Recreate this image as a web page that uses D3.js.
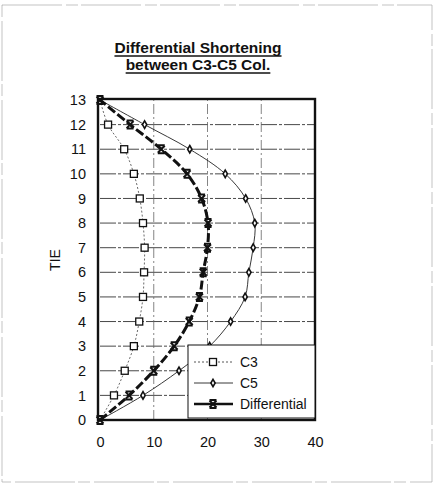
<!DOCTYPE html>
<html>
<head>
<meta charset="utf-8">
<script src="https://cdn.jsdelivr.net/npm/d3@7"></script>
<style>
  body { margin: 0; background: #fff; }
  svg text { font-family: "Liberation Sans", Arial, sans-serif; fill: #111; }
</style>
</head>
<body>
<svg></svg>
<script>
let tie = [0, 1, 2, 3, 4, 5, 6, 7, 8, 9, 10, 11, 12, 13]
let c3 = [0, 2.6, 4.6, 6.3, 7.3, 8.0, 8.2, 8.3, 8.0, 7.4, 6.3, 4.5, 1.5, 0]
let c5 = [0, 8.0, 14.7, 20.4, 24.3, 27.0, 27.7, 28.5, 28.8, 27.1, 23.3, 16.7, 8.3, 0]
let diff = [0, 5.4, 10.0, 13.8, 16.6, 18.5, 19.2, 20.0, 20.1, 18.9, 16.2, 11.4, 5.6, 0]
let xTicks = [0, 10, 20, 30, 40]
let titleLines = ["Differential Shortening", "between C3-C5 Col."]
let seriesNames = ["C3", "C5", "Differential"]

let width = 435
let height = 484

let svg = d3.select("svg")
  .attr("width", width)
  .attr("height", height)

// faint page frame of the scan
svg.append("rect")
   .attr("x", 2).attr("y", 5)
   .attr("width", 430).attr("height", 477)
   .attr("fill", "none")
   .attr("stroke", "#aaa")
   .attr("stroke-width", 0.7)
   .attr("stroke-dasharray", "60,4,12,3")

let xScale = d3.scaleLinear().domain([0, 40]).range([100, 315])
let yScale = d3.scaleLinear().domain([0, 13]).range([420, 100])

// title
let title = svg.append("g")
titleLines.forEach((t, i) => {
  let txt = title.append("text")
     .attr("x", 198)
     .attr("y", 53 + i * 17)
     .attr("text-anchor", "middle")
     .attr("font-size", "15.5px")
     .attr("font-weight", "bold")
     .text(t)
  let w = txt.node().getComputedTextLength()
  title.append("line")
     .attr("x1", 198 - w / 2).attr("x2", 198 + w / 2)
     .attr("y1", 56 + i * 17).attr("y2", 56 + i * 17)
     .attr("stroke", "#111").attr("stroke-width", 1.4)
})

// grid
svg.append("g")
   .selectAll("line")
   .data(tie.filter(d => d > 0 && d < 13))
   .enter().append("line")
   .attr("x1", xScale(0)).attr("x2", xScale(40))
   .attr("y1", d => yScale(d)).attr("y2", d => yScale(d))
   .attr("stroke", "#333").attr("stroke-width", 0.9)
   .attr("stroke-dasharray", "16,2,3,2")

svg.append("g")
   .selectAll("line")
   .data(xTicks.filter(d => d > 0 && d < 40))
   .enter().append("line")
   .attr("x1", d => xScale(d)).attr("x2", d => xScale(d))
   .attr("y1", yScale(0)).attr("y2", yScale(13))
   .attr("stroke", "#666").attr("stroke-width", 0.8)
   .attr("stroke-dasharray", "10,3,2,3")

// axes
let xAxis = d3.axisBottom(xScale).tickValues(xTicks).tickSize(0).tickPadding(17)
let yAxis = d3.axisLeft(yScale).tickValues(tie).tickSize(0).tickPadding(12)

let gx = svg.append("g")
   .attr("transform", "translate(0," + yScale(0) + ")")
   .call(xAxis)
let gy = svg.append("g")
   .attr("transform", "translate(" + (xScale(0) - 2) + ",0)")
   .call(yAxis)
;[gx, gy].forEach(g => {
  g.select(".domain").remove()
  g.selectAll("text").attr("font-size", "14.5px").attr("fill", "#111")
    .attr("font-family", "Liberation Sans, Arial, sans-serif")
})

// plot frame
svg.append("rect")
   .attr("x", xScale(0) - 2).attr("y", yScale(13) - 1)
   .attr("width", xScale(40) - xScale(0) + 2)
   .attr("height", yScale(0) - yScale(13) + 1)
   .attr("fill", "none")
   .attr("stroke", "#111")
   .attr("stroke-width", 2.4)

svg.append("text")
   .attr("transform", "translate(60," + yScale(6.5) + ") rotate(-90)")
   .attr("text-anchor", "middle")
   .attr("font-size", "14px")
   .text("TIE")

// series
let series = [
  { name: seriesNames[0], vals: c3, width: 0.8, dash: "2,2", marker: "square", color: "#444" },
  { name: seriesNames[1], vals: c5, width: 0.9, dash: null, marker: "diamond", color: "#222" },
  { name: seriesNames[2], vals: diff, width: 3, dash: "9,3", marker: "x", color: "#111" }
]

let line = d3.line()
  .x(d => xScale(d[0]))
  .y(d => yScale(d[1]))
  .curve(d3.curveCatmullRom)

let drawMarker = (g, type, x, y) => {
  if (type === "square") {
    g.append("rect").attr("x", x - 3.5).attr("y", y - 3.5)
     .attr("width", 7).attr("height", 7)
     .attr("fill", "#fff").attr("stroke", "#111").attr("stroke-width", 1.3)
  } else if (type === "diamond") {
    g.append("path")
     .attr("d", d3.symbol().type(d3.symbolDiamond).size(16)())
     .attr("transform", "translate(" + x + "," + y + ")")
     .attr("fill", "#fff").attr("stroke", "#111").attr("stroke-width", 1.6)
  } else {
    g.append("path")
     .attr("d", "M-3.5,-3.5L3.5,3.5M3.5,-3.5L-3.5,3.5M-3.5,-4H3.5M-3.5,4H3.5")
     .attr("transform", "translate(" + x + "," + y + ")")
     .attr("fill", "none").attr("stroke", "#111").attr("stroke-width", 2)
  }
}

series.forEach(s => {
  let pts = s.vals.map((v, i) => [v, tie[i]])
  svg.append("path")
     .datum(pts)
     .attr("d", line)
     .attr("fill", "none")
     .attr("stroke", s.color)
     .attr("stroke-width", s.width)
     .attr("stroke-dasharray", s.dash)
  let g = svg.append("g")
  pts.forEach(p => {
    if (s.marker !== "x" && (p[1] === 0 || p[1] === 13)) return
    drawMarker(g, s.marker, xScale(p[0]), yScale(p[1]))
  })
})

// legend
let lg = svg.append("g")
lg.append("rect")
  .attr("x", 188).attr("y", 345)
  .attr("width", xScale(40) - 188).attr("height", yScale(0) - 347)
  .attr("fill", "#fff")
  .attr("stroke", "#111").attr("stroke-width", 1)
series.forEach((s, i) => {
  let y = 362 + i * 21
  lg.append("line")
    .attr("x1", 194).attr("x2", 233)
    .attr("y1", y).attr("y2", y)
    .attr("stroke", s.color)
    .attr("stroke-width", i === 2 ? 2.4 : 0.9)
    .attr("stroke-dasharray", i === 0 ? "2,2" : null)
  drawMarker(lg, s.marker, 213, y)
  lg.append("text")
    .attr("x", 240).attr("y", y + 5)
    .attr("font-size", "14px")
    .text(s.name)
})
</script>
</body>
</html>
